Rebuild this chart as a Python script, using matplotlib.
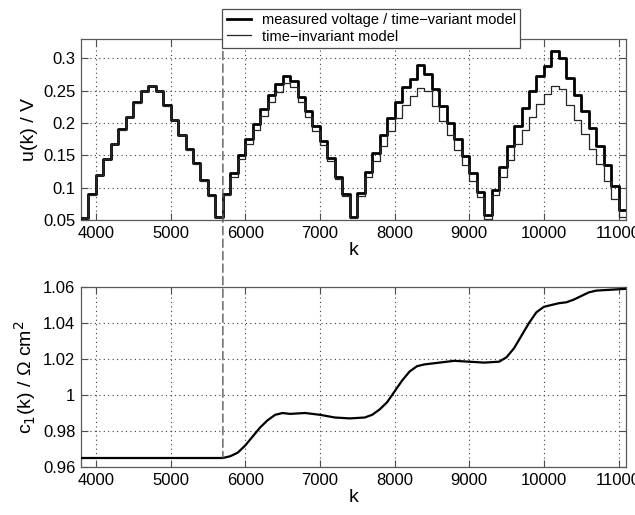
#!/usr/bin/env python3
"""Step voltage response and identified capacitance c1(k)."""

import matplotlib

matplotlib.use("Agg")
import matplotlib.pyplot as plt
import numpy as np
from matplotlib.patches import ConnectionPatch
from matplotlib.ticker import FormatStrFormatter, MultipleLocator

plt.rcParams["font.family"] = ["Liberation Sans", "DejaVu Sans"]

# sample index of each 100-sample current step (step starts)
STEP_K = np.arange(3800, 11100, 100)
K_END = 11100

# measured voltage / time-variant model, one value per step
U_MEASURED = [
    0.053, 0.090, 0.120, 0.145, 0.168, 0.190, 0.210, 0.232, 0.250,
    0.258, 0.250, 0.228, 0.205, 0.182, 0.160, 0.138, 0.112, 0.088,
    0.055, 0.090, 0.122, 0.150, 0.175, 0.198, 0.222, 0.243, 0.260,
    0.272, 0.265, 0.241, 0.218, 0.195, 0.172, 0.146, 0.117, 0.090,
    0.055, 0.092, 0.124, 0.153, 0.181, 0.208, 0.233, 0.255, 0.268,
    0.290, 0.276, 0.252, 0.226, 0.200, 0.175, 0.149, 0.122, 0.093,
    0.057, 0.097, 0.132, 0.165, 0.195, 0.223, 0.250, 0.272, 0.288,
    0.312, 0.300, 0.270, 0.243, 0.218, 0.192, 0.165, 0.135, 0.102,
    0.065,
]

# time-invariant model
U_INVARIANT = [
    0.053, 0.089, 0.119, 0.144, 0.167, 0.189, 0.209, 0.231, 0.249,
    0.257, 0.249, 0.227, 0.204, 0.181, 0.159, 0.137, 0.111, 0.087,
    0.054, 0.088, 0.117, 0.144, 0.167, 0.189, 0.211, 0.232, 0.248,
    0.262, 0.256, 0.233, 0.210, 0.188, 0.166, 0.141, 0.113, 0.087,
    0.053, 0.087, 0.116, 0.141, 0.165, 0.188, 0.208, 0.228, 0.242,
    0.254, 0.250, 0.226, 0.203, 0.181, 0.159, 0.135, 0.110, 0.085,
    0.052, 0.088, 0.117, 0.143, 0.167, 0.189, 0.210, 0.230, 0.245,
    0.258, 0.252, 0.228, 0.205, 0.183, 0.160, 0.136, 0.110, 0.083,
    0.055,
]

# identified parameter c1(k)
C1_K = [3800, 5700, 5800, 5900, 6000, 6100, 6200, 6300, 6400, 6500, 6600,
        6800, 7000, 7200, 7400, 7600, 7700, 7800, 7900, 8000, 8100, 8200,
        8300, 8400, 8600, 8800, 9000, 9200, 9400, 9500, 9600, 9700, 9800,
        9900, 10000, 10100, 10200, 10300, 10400, 10500, 10600, 10700,
        10900, 11100]
C1_VAL = [0.965, 0.965, 0.966, 0.968, 0.972, 0.977, 0.982, 0.986, 0.989,
          0.990, 0.9895, 0.990, 0.989, 0.9875, 0.987, 0.9875, 0.989, 0.992,
          0.996, 1.002, 1.008, 1.013, 1.016, 1.017, 1.018, 1.019, 1.0185,
          1.018, 1.0185, 1.021, 1.026, 1.033, 1.040, 1.046, 1.049, 1.050,
          1.051, 1.0515, 1.053, 1.055, 1.057, 1.058, 1.0585, 1.059]

K_SWITCH = 5700


def _style(ax):
    ax.set_xlim(3800, 11100)
    ax.xaxis.set_major_locator(MultipleLocator(1000))
    ax.grid(True, linestyle=(0, (1, 3)), color="0.25", linewidth=0.8)
    ax.tick_params(direction="in", top=True, right=True, length=5,
                   labelsize=12, color="0.3", pad=4)
    for spine in ax.spines.values():
        spine.set_color("0.35")
        spine.set_linewidth(0.9)
    ax.set_xlabel("k", fontsize=14, labelpad=1)


def main():
    fig = plt.figure(figsize=(6.35, 5.15), dpi=100)
    ax1 = fig.add_axes([0.1276, 0.5728, 0.8583, 0.3515])
    ax2 = fig.add_axes([0.1276, 0.0932, 0.8583, 0.3495])

    k_steps = np.append(STEP_K, K_END)
    ax1.step(k_steps, U_MEASURED + U_MEASURED[-1:], where="post",
             color="black", linewidth=2.0, zorder=3,
             label="measured voltage / time\u2212variant model")
    ax1.step(k_steps, U_INVARIANT + U_INVARIANT[-1:], where="post",
             color="0.15", linewidth=0.9, zorder=4,
             label="time\u2212invariant model")
    _style(ax1)
    ax1.set_ylim(0.05, 0.33)
    ax1.yaxis.set_major_locator(MultipleLocator(0.05))
    ax1.yaxis.set_major_formatter(FormatStrFormatter("%g"))
    ax1.set_ylabel("u(k) / V", fontsize=14, labelpad=4)

    ax2.plot(C1_K, C1_VAL, color="black", linewidth=1.6, zorder=3)
    _style(ax2)
    ax2.set_ylim(0.96, 1.06)
    ax2.yaxis.set_major_locator(MultipleLocator(0.02))
    ax2.yaxis.set_major_formatter(FormatStrFormatter("%g"))
    ax2.set_ylabel("c$_1$(k) / \u03a9 cm$^2$", fontsize=14, labelpad=4)

    con = ConnectionPatch(xyA=(K_SWITCH, 0.33), coordsA=ax1.transData,
                          xyB=(K_SWITCH, 0.965), coordsB=ax2.transData,
                          color="0.35", linewidth=1.0, linestyle=(0, (6, 3)),
                          zorder=2)
    fig.add_artist(con)

    leg = fig.legend(loc="upper left", bbox_to_anchor=(0.35, 0.9825),
                     fontsize=10.5, handlelength=1.7, handletextpad=0.7,
                     borderpad=0.3, labelspacing=0.15, fancybox=False,
                     framealpha=1.0, borderaxespad=0.0)
    leg.get_frame().set_edgecolor("0.3")
    leg.get_frame().set_linewidth(0.9)
    leg.set_zorder(10)

    fig.savefig("out.png", dpi=100)
    plt.close(fig)


if __name__ == "__main__":
    main()
